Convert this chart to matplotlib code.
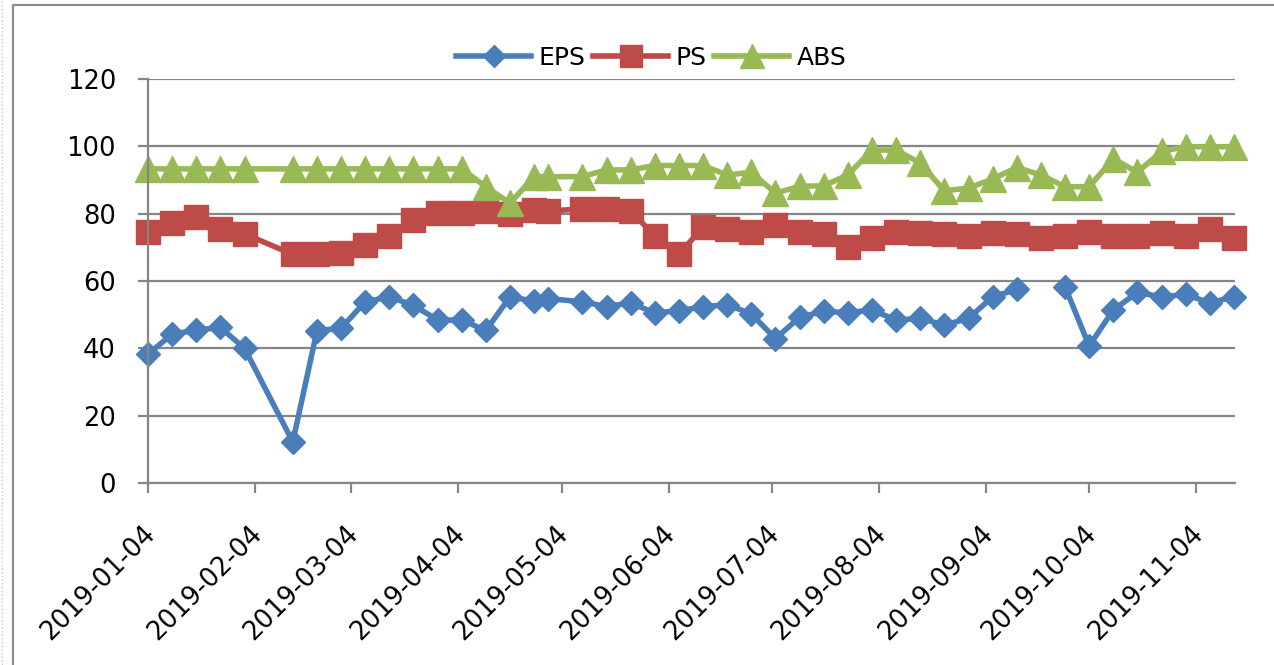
import numpy as np
import matplotlib
matplotlib.use('Agg')
import matplotlib.pyplot as plt
import matplotlib.dates as mdates
from matplotlib.lines import Line2D
from matplotlib.transforms import ScaledTranslation

# weekly observations (Fridays, holidays shifted / skipped)
dates = ['2019-01-04', '2019-01-11', '2019-01-18', '2019-01-25', '2019-02-01',
         '2019-02-15', '2019-02-22', '2019-03-01', '2019-03-08', '2019-03-15',
         '2019-03-22', '2019-03-29', '2019-04-05', '2019-04-12', '2019-04-19',
         '2019-04-26', '2019-04-30', '2019-05-10', '2019-05-17', '2019-05-24',
         '2019-05-31', '2019-06-07', '2019-06-14', '2019-06-21', '2019-06-28',
         '2019-07-05', '2019-07-12', '2019-07-19', '2019-07-26', '2019-08-02',
         '2019-08-09', '2019-08-16', '2019-08-23', '2019-08-30', '2019-09-06',
         '2019-09-13', '2019-09-20', '2019-09-27', '2019-10-04', '2019-10-11',
         '2019-10-18', '2019-10-25', '2019-11-01', '2019-11-08', '2019-11-15']

eps = [38.3, 44.2, 45.4, 46.2, 40.0, 12.2, 45.2, 46.0, 53.8, 55.3,
       52.8, 48.4, 48.4, 45.3, 55.3, 54.0, 54.8, 53.8, 52.4, 53.5,
       50.5, 51.2, 52.3, 53.0, 50.2, 42.9, 49.2, 51.0, 50.6, 51.4,
       48.4, 48.9, 46.9, 48.9, 55.3, 57.5, np.nan, 58.3, 40.7, 51.4,
       56.6, 55.3, 56.0, 53.5, 55.3]

ps = [74.7, 77.3, 78.9, 75.4, 74.0, 67.9, 67.9, 68.4, 70.7, 73.3,
      78.1, 80.1, 80.3, 80.7, 80.0, 81.2, 80.8, 81.4, 81.4, 80.8,
      73.4, 67.9, 76.0, 75.4, 74.7, 76.7, 74.7, 74.0, 70.0, 72.7,
      74.7, 74.2, 74.0, 73.4, 74.2, 74.0, 72.7, 73.4, 74.7, 73.4,
      73.4, 74.2, 73.4, 75.4, 72.7]

abs_vals = [93.3, 93.3, 93.3, 93.3, 93.3, 93.3, 93.3, 93.3, 93.3, 93.3,
            93.3, 93.3, 93.3, 88.0, 83.1, 91.0, 91.0, 91.0, 93.0, 93.0,
            94.3, 94.3, 94.3, 91.5, 92.3, 86.1, 88.1, 88.3, 91.5, 98.9,
            98.9, 95.0, 86.8, 87.6, 90.3, 93.7, 91.5, 88.0, 88.0, 96.3,
            92.3, 98.5, 99.9, 99.9, 99.9]

tick_dates = ['2019-01-04', '2019-02-04', '2019-03-04', '2019-04-04',
              '2019-05-04', '2019-06-04', '2019-07-04', '2019-08-04',
              '2019-09-04', '2019-10-04', '2019-11-04']

x = mdates.date2num(np.array(dates, dtype='datetime64[D]'))
xt = mdates.date2num(np.array(tick_dates, dtype='datetime64[D]'))

fig = plt.figure(figsize=(12.74, 6.65), dpi=100)
ax = fig.add_axes([148 / 1274, 1 - 483 / 665, (1235 - 148) / 1274, (483 - 79) / 665])

ax.plot(x, eps, color='#4a7ebb', lw=4, marker='D', ms=12.5, label='EPS', clip_on=False)
ax.plot(x, ps, color='#be4b48', lw=4, marker='s', ms=17.5, label='PS', clip_on=False)
ax.plot(x, abs_vals, color='#98b954', lw=4, marker='^', ms=18.5, label='ABS', clip_on=False)

grey = '#868686'
ax.set_ylim(0, 120)
ax.set_yticks(range(0, 121, 20))
ax.set_xlim(x[0], x[-1] + 0.3)
ax.grid(axis='y', color=grey, lw=1.6)
ax.set_axisbelow(True)
for s in ['top', 'right']:
    ax.spines[s].set_visible(False)
for s in ['left', 'bottom']:
    ax.spines[s].set_color(grey)
    ax.spines[s].set_linewidth(1.6)

ax.set_xticks(xt)
ax.set_xticklabels(tick_dates, rotation=45, ha='right', va='center',
                   rotation_mode='anchor')
ax.tick_params(axis='both', direction='out', length=7, width=1.6, color=grey,
               labelsize=18.5)
ax.tick_params(axis='y', pad=16)
ax.tick_params(axis='x', pad=27)
for lab in ax.get_xticklabels():
    lab.set_transform(lab.get_transform() + ScaledTranslation(0.03, 0, fig.dpi_scale_trans))

fig.legend(loc='center', bbox_to_anchor=(0.5114, 0.913), ncol=3, frameon=False,
           handlelength=3.0, handletextpad=0.3, columnspacing=0.3, fontsize=18,
           markerscale=0.9)

# chart frame remains
fig.add_artist(Line2D([13 / 1274, 13 / 1274], [0, 1 - 5 / 665], transform=fig.transFigure,
                      color='#8c8c8c', lw=1.5))
fig.add_artist(Line2D([13 / 1274, 1], [1 - 5 / 665, 1 - 5 / 665], transform=fig.transFigure,
                      color='#8c8c8c', lw=1.5))
fig.add_artist(Line2D([2 / 1274, 2 / 1274], [0, 1], transform=fig.transFigure,
                      color='#c8c8c8', lw=1, ls=':'))

fig.savefig('out.png', dpi=100)
